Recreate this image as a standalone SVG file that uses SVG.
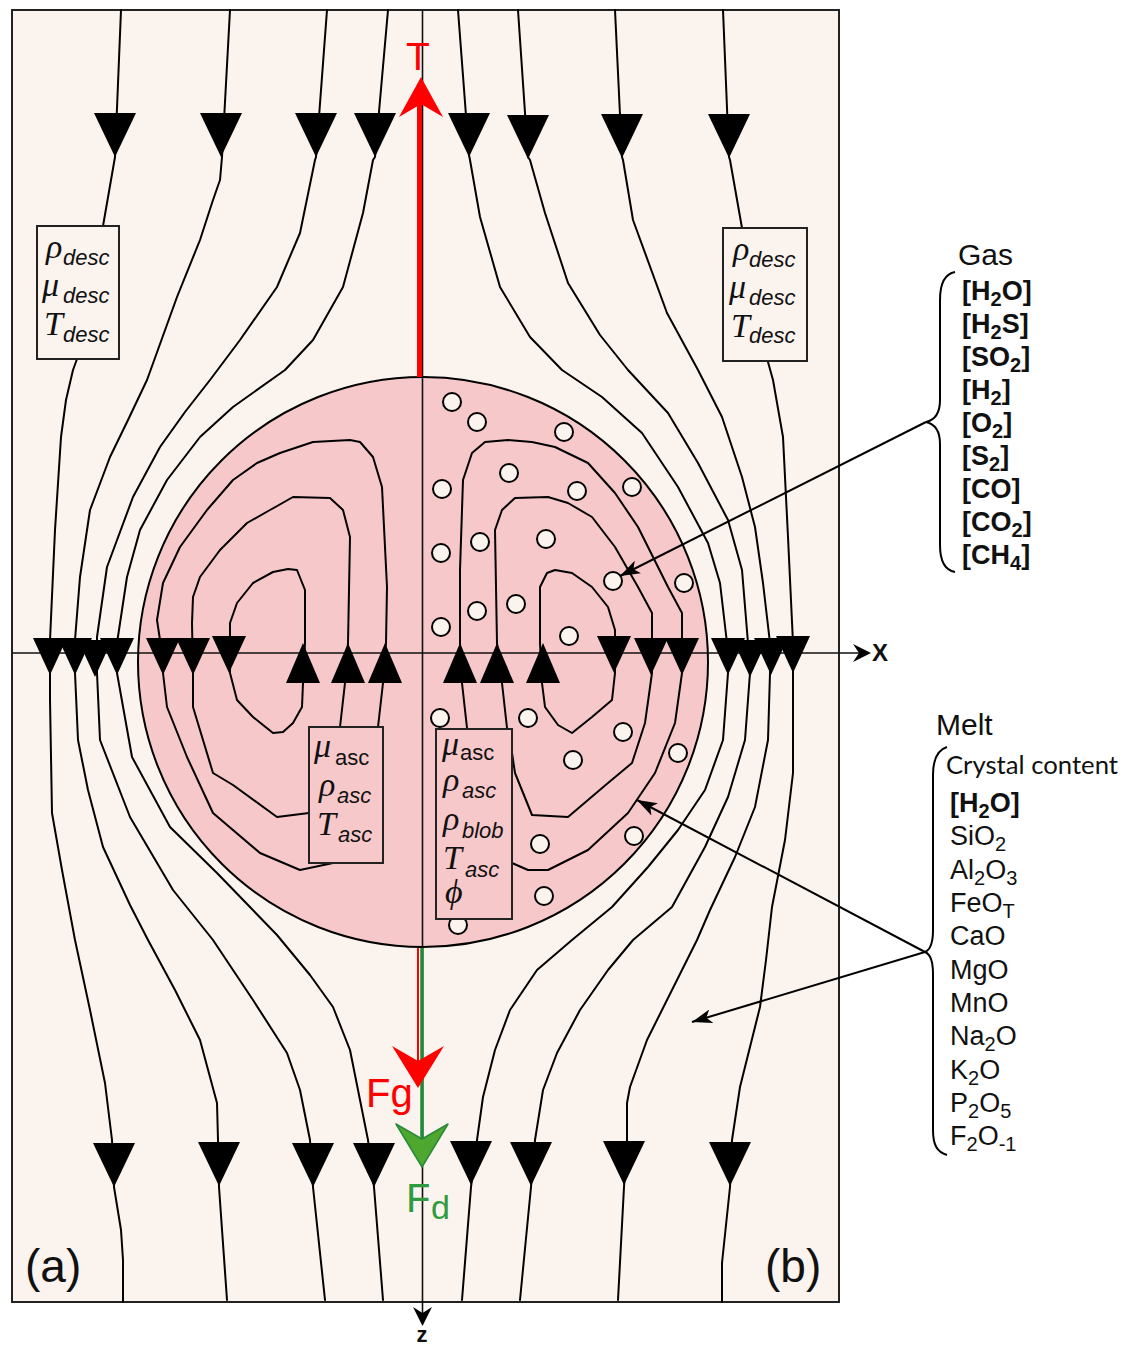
<svg xmlns="http://www.w3.org/2000/svg" width="1127" height="1346" viewBox="0 0 1127 1346">
<style>
.sl{fill:none;stroke:#000;stroke-width:2;stroke-linejoin:round;stroke-linecap:round}
.ax{fill:none;stroke:#111;stroke-width:1.6}
.bub{fill:#fbf3ee;stroke:#000;stroke-width:2}
.bx{stroke:#222;stroke-width:2}
.gk{font-family:"Liberation Serif","DejaVu Serif",serif;font-style:italic;font-size:34px;fill:#111}
.sb{font-family:"Liberation Sans",Arial,sans-serif;font-style:italic;font-size:22px;fill:#111}
.su{font-family:"Liberation Sans",Arial,sans-serif;font-size:22px;fill:#111}
.gas{font-family:"Liberation Sans",Arial,sans-serif;font-weight:bold;font-size:27px;fill:#111}
.melt{font-family:"Liberation Sans",Arial,sans-serif;font-size:27px;fill:#111}
.ttl{font-family:"Liberation Sans",Arial,sans-serif;font-size:30px;fill:#111}
.lbl{font-family:"Liberation Sans",Arial,sans-serif;font-size:46px;fill:#111}
.ptr{fill:none;stroke:#000;stroke-width:2}
</style>
<defs>
<path id="td" d="M-21,-44 L21,-44 L0,0 Z" fill="#000"/>
<path id="tds" d="M-17,-37 L17,-37 L0,0 Z" fill="#000"/>
<path id="tus" d="M-17,40 L17,40 L0,0 Z" fill="#000"/>
<marker id="ah" markerUnits="userSpaceOnUse" markerWidth="22" markerHeight="14" refX="20" refY="7" orient="auto">
<path d="M0,0 L20,7 L0,14 L5,7 Z" fill="#000"/>
</marker>
</defs>
<rect x="0" y="0" width="1127" height="1346" fill="#fff"/>
<rect id="frame" x="12" y="10" width="827" height="1292" fill="#fbf3ee" stroke="#222" stroke-width="2"/>
<g id="blob">
<circle cx="423" cy="662" r="285" fill="#f7c8ca" stroke="#000" stroke-width="2"/>
</g>
<g id="axes">
<line class="ax" x1="422.5" y1="10" x2="422.5" y2="1318"/>
<path d="M422.5,1326 L413,1307 L422.5,1313 L432,1307 Z" fill="#000"/>
<line class="ax" x1="12" y1="653" x2="862" y2="653"/>
<path d="M871,653 L853,644 L859,653 L853,662 Z" fill="#000"/>
<text x="872" y="661" font-family="Liberation Sans,Arial,sans-serif" font-weight="bold" font-size="24" fill="#111">X</text>
<text x="422" y="1342" text-anchor="middle" font-family="Liberation Sans,Arial,sans-serif" font-weight="bold" font-size="22" fill="#111">z</text>
</g>
<g id="connectors">
<path class="sl" d="M121,10 L115,157 L103,226 M77,359 L73,370 L66,400 L61,437 L55,530 L50,640 L50,700 L52,813 L62,870 L75,940 L90,1010 L105,1083 L112,1140 L114,1187 L121,1230 L123,1260 L123,1302"/>
<path class="sl" d="M230,10 L222,157 L220,180 L213,200 L200,240 L177,297 L147,380 L128,420 L110,457 L90,510 L80,577 L75,640 L75,673 L78,740 L88,790 L103,847 L130,905 L148,940 L175,990 L200,1040 L217,1103 L218,1140 L219,1187 L227,1300"/>
<path class="sl" d="M327,10 L316,157 L315,160 L300,233 L277,287 L240,340 L210,380 L185,412 L160,447 L133,497 L107,567 L97,637 L97,673 L100,740 L130,817 L173,890 L213,940 L253,1000 L287,1053 L300,1090 L310,1140 L313,1187 L325,1300"/>
<path class="sl" d="M388,10 L375,157 L373,160 L363,213 L343,287 L313,340 L285,370 L233,407 L200,437 L167,480 L140,530 L127,577 L117,643 L117,673 L132,757 L170,827 L217,873 L277,935 L310,975 L333,1007 L350,1050 L368,1140 L374,1187 L383,1300"/>
<path class="sl" d="M458,10 L469,155 L470,160 L480,217 L500,287 L530,337 L562,370 L602,397 L642,433 L678,487 L708,543 L720,583 L727,643 L728,673 L723,740 L705,790 L678,830 L648,867 L612,907 L572,940 L537,970 L510,1010 L495,1050 L483,1097 L477,1140 L471,1187 L462,1300"/>
<path class="sl" d="M518,10 L528,157 L530,160 L545,213 L568,283 L600,335 L628,370 L668,413 L698,463 L728,520 L742,570 L748,643 L750,673 L745,740 L728,797 L705,847 L672,907 L633,940 L608,970 L580,1010 L557,1053 L543,1090 L535,1140 L531,1187 L520,1300"/>
<path class="sl" d="M615,10 L622,157 L623,160 L633,220 L667,313 L698,370 L722,417 L742,477 L755,527 L763,583 L770,643 L770,673 L768,740 L755,807 L735,857 L710,910 L697,940 L682,970 L647,1040 L630,1087 L627,1103 L627,1140 L624,1187 L618,1300"/>
<path class="sl" d="M723,10 L729,157 L730,160 L742,228 M768,362 L773,380 L783,437 L788,537 L793,643 L793,673 L793,773 L785,840 L772,907 L766,960 L760,1007 L740,1087 L732,1140 L730,1187 L722,1263 L722,1302"/>
<path class="sl" d="M378,727 L383,683 L386,643 L387,587 L382,487 L373,457 L360,442 L350,440 L313,442 L280,453 L257,463 L233,480 L207,510 L180,547 L163,583 L157,620 L160,640 L163,673 L167,707 L187,757 L213,813 L260,853 L300,870 L333,863"/>
<path class="sl" d="M340,727 L345,683 L348,643 L350,537 L343,510 L330,498 L293,497 L270,510 L247,523 L220,550 L200,577 L193,597 L192,623 L193,673 L193,707 L213,773 L233,785 L277,817 L309,813"/>
<path class="sl" d="M303,683 L305,643 L305,590 L297,570 L288,569 L273,572 L253,583 L237,603 L230,623 L230,673 L237,700 L253,717 L273,733 L283,732 L293,723 L302,707 L303,683"/>
<path class="sl" d="M467,728 L462,683 L460,643 L460,570 L463,480 L472,453 L485,442 L508,440 L532,442 L555,447 L588,463 L615,493 L638,527 L668,587 L682,613 L682,673 L675,723 L655,773 L628,813 L588,850 L548,870 L528,870 L512,863"/>
<path class="sl" d="M507,728 L502,683 L497,643 L495,530 L502,510 L515,498 L548,497 L568,503 L592,517 L615,547 L638,587 L652,613 L652,673 L645,723 L632,763 L608,783 L568,817 L532,815 L515,773 L512,753"/>
<path class="sl" d="M542,683 L540,643 L540,587 L547,573 L555,570 L572,573 L592,587 L608,607 L615,630 L615,673 L612,700 L592,717 L572,733 L558,725 L545,707 L542,683"/>
<line class="ptr" x1="926" y1="422" x2="620" y2="576" marker-end="url(#ah)"/>
<line class="ptr" x1="925" y1="952" x2="637" y2="800" marker-end="url(#ah)"/>
<line class="ptr" x1="925" y1="952" x2="692" y2="1022" marker-end="url(#ah)"/>
</g>
<g id="arrowheads">
<use href="#td" x="115" y="157"/><use href="#td" x="221" y="157"/><use href="#td" x="316" y="157"/><use href="#td" x="375" y="157"/>
<use href="#td" x="469" y="157"/><use href="#td" x="528" y="159"/><use href="#td" x="622" y="158"/><use href="#td" x="729" y="158"/>
<use href="#td" x="114" y="1187"/><use href="#td" x="219" y="1186"/><use href="#td" x="313" y="1187"/><use href="#td" x="374" y="1187"/>
<use href="#td" x="471" y="1185"/><use href="#td" x="531" y="1186"/><use href="#td" x="624" y="1185"/><use href="#td" x="730" y="1186"/>
<use href="#tds" x="50" y="675"/><use href="#tds" x="75" y="675"/><use href="#tds" x="95" y="677"/><use href="#tds" x="117" y="675"/>
<use href="#tds" x="163" y="675"/><use href="#tds" x="193" y="675"/><use href="#tds" x="229" y="673"/>
<use href="#tds" x="614" y="673"/><use href="#tds" x="651" y="675"/><use href="#tds" x="682" y="675"/>
<use href="#tds" x="728" y="675"/><use href="#tds" x="750" y="677"/><use href="#tds" x="771" y="675"/><use href="#tds" x="793" y="673"/>
<use href="#tus" x="303" y="643"/><use href="#tus" x="348" y="643"/><use href="#tus" x="385" y="643"/>
<use href="#tus" x="460" y="643"/><use href="#tus" x="497" y="643"/><use href="#tus" x="543" y="643"/>
</g>
<g id="bubbles">
<circle class="bub" cx="452" cy="402" r="9"/><circle class="bub" cx="477" cy="422" r="9"/><circle class="bub" cx="564" cy="432" r="9"/>
<circle class="bub" cx="509" cy="473" r="9"/><circle class="bub" cx="442" cy="489" r="9"/><circle class="bub" cx="577" cy="491" r="9"/>
<circle class="bub" cx="632" cy="487" r="9"/><circle class="bub" cx="480" cy="542" r="9"/><circle class="bub" cx="546" cy="539" r="9"/>
<circle class="bub" cx="441" cy="553" r="9"/><circle class="bub" cx="613" cy="581" r="9"/><circle class="bub" cx="684" cy="583" r="9"/>
<circle class="bub" cx="516" cy="604" r="9"/><circle class="bub" cx="477" cy="611" r="9"/><circle class="bub" cx="441" cy="627" r="9"/>
<circle class="bub" cx="569" cy="636" r="9"/><circle class="bub" cx="440" cy="718" r="9"/><circle class="bub" cx="528" cy="718" r="9"/>
<circle class="bub" cx="623" cy="732" r="9"/><circle class="bub" cx="678" cy="753" r="9"/><circle class="bub" cx="573" cy="760" r="9"/>
<circle class="bub" cx="540" cy="844" r="9"/><circle class="bub" cx="634" cy="836" r="9"/><circle class="bub" cx="544" cy="896" r="9"/>
<circle class="bub" cx="458" cy="925" r="9"/>
</g>
<g id="forces">
<line x1="419.5" y1="100" x2="419.5" y2="377" stroke="#f00" stroke-width="5"/>
<path d="M421,77 L443,117 L421,104 L399,117 Z" fill="#f00"/>
<text x="418" y="70" text-anchor="middle" font-family="Liberation Sans,Arial,sans-serif" font-size="39" fill="#f00">T</text>
<line x1="418" y1="948" x2="418" y2="1065" stroke="#f00" stroke-width="2"/>
<line x1="422" y1="948" x2="422" y2="1145" stroke="#1f8a3a" stroke-width="3.5"/>
<path d="M418,1088 L392,1046 L418,1061 L444,1046 Z" fill="#f00"/>
<text x="366" y="1107" font-family="Liberation Sans,Arial,sans-serif" font-size="40" fill="#f00">Fg</text>
<path d="M422,1167 L396,1124 L422,1139 L448,1124 Z" fill="#4ea72e" stroke="#2a8a3a" stroke-width="1.5" stroke-linejoin="round"/>
<text x="406" y="1212" font-family="Liberation Sans,Arial,sans-serif" font-size="40" fill="#2e9b3e">F</text>
<text x="431" y="1219" font-family="Liberation Sans,Arial,sans-serif" font-size="34" fill="#2e9b3e">d</text>
</g>
<g id="box-desc-left">
<rect class="bx" x="37" y="226" width="82" height="133" fill="#fbf3ee"/>
<text class="gk" x="46" y="258">ρ</text><text class="sb" x="63" y="265">desc</text>
<text class="gk" x="42" y="296">μ</text><text class="sb" x="63" y="303">desc</text>
<text class="gk" x="44" y="335">T</text><text class="sb" x="63" y="342">desc</text>
</g>
<g id="box-desc-right">
<rect class="bx" x="723" y="228" width="84" height="133" fill="#fbf3ee"/>
<text class="gk" x="733" y="260">ρ</text><text class="sb" x="749" y="267">desc</text>
<text class="gk" x="729" y="298">μ</text><text class="sb" x="749" y="305">desc</text>
<text class="gk" x="731" y="337">T</text><text class="sb" x="749" y="343">desc</text>
</g>
<g id="box-asc-left">
<rect class="bx" x="309" y="727" width="74" height="136" fill="#f7c8ca"/>
<text class="gk" x="314" y="757">μ</text><text class="su" x="335" y="765">asc</text>
<text class="gk" x="319" y="796">ρ</text><text class="sb" x="337" y="803">asc</text>
<text class="gk" x="317" y="835">T</text><text class="sb" x="338" y="842">asc</text>
</g>
<g id="box-asc-right">
<rect class="bx" x="436" y="729" width="76" height="190" fill="#f7c8ca"/>
<text class="gk" x="442" y="755">μ</text><text class="su" x="460" y="760">asc</text>
<text class="gk" x="443" y="791">ρ</text><text class="sb" x="462" y="798">asc</text>
<text class="gk" x="443" y="830">ρ</text><text class="sb" x="462" y="838">blob</text>
<text class="gk" x="443" y="869">T</text><text class="sb" x="465" y="877">asc</text>
<text class="gk" x="445" y="903">ϕ</text>
</g>
<g id="gas">
<path class="ptr" d="M955,272 C944,274 940,285 940,300 L940,400 C940,414 935,420 926,422 C935,424 940,430 940,444 L940,545 C940,560 944,570 955,572"/>
<text class="ttl" x="958" y="265">Gas</text>
<text class="gas" x="962" y="300">[H<tspan font-size="20" dy="6">2</tspan><tspan dy="-6">O]</tspan></text>
<text class="gas" x="962" y="333">[H<tspan font-size="20" dy="6">2</tspan><tspan dy="-6">S]</tspan></text>
<text class="gas" x="962" y="366">[SO<tspan font-size="20" dy="6">2</tspan><tspan dy="-6">]</tspan></text>
<text class="gas" x="962" y="399">[H<tspan font-size="20" dy="6">2</tspan><tspan dy="-6">]</tspan></text>
<text class="gas" x="962" y="432">[O<tspan font-size="20" dy="6">2</tspan><tspan dy="-6">]</tspan></text>
<text class="gas" x="962" y="465">[S<tspan font-size="20" dy="6">2</tspan><tspan dy="-6">]</tspan></text>
<text class="gas" x="962" y="498">[CO]</text>
<text class="gas" x="962" y="531">[CO<tspan font-size="20" dy="6">2</tspan><tspan dy="-6">]</tspan></text>
<text class="gas" x="962" y="564">[CH<tspan font-size="20" dy="6">4</tspan><tspan dy="-6">]</tspan></text>
</g>
<g id="melt">
<path class="ptr" d="M947,747 C937,750 933,760 933,775 L933,930 C933,944 930,950 925,952 C930,954 933,960 933,974 L933,1130 C933,1145 937,1152 947,1155"/>
<text class="ttl" x="936" y="735">Melt</text>
<text x="946" y="774" font-family="Lato,'Open Sans',sans-serif" font-size="25" fill="#111" textLength="172" lengthAdjust="spacingAndGlyphs">Crystal content</text>
<text class="melt" x="950" y="812" font-weight="bold">[H<tspan font-size="20" dy="6">2</tspan><tspan dy="-6">O]</tspan></text>
<text class="melt" x="950" y="845">SiO<tspan font-size="20" dy="6">2</tspan></text>
<text class="melt" x="950" y="879">Al<tspan font-size="20" dy="6">2</tspan><tspan dy="-6">O</tspan><tspan font-size="20" dy="6">3</tspan></text>
<text class="melt" x="950" y="912">FeO<tspan font-size="20" dy="6">T</tspan></text>
<text class="melt" x="950" y="945">CaO</text>
<text class="melt" x="950" y="979">MgO</text>
<text class="melt" x="950" y="1012">MnO</text>
<text class="melt" x="950" y="1045">Na<tspan font-size="20" dy="6">2</tspan><tspan dy="-6">O</tspan></text>
<text class="melt" x="950" y="1079">K<tspan font-size="20" dy="6">2</tspan><tspan dy="-6">O</tspan></text>
<text class="melt" x="950" y="1112">P<tspan font-size="20" dy="6">2</tspan><tspan dy="-6">O</tspan><tspan font-size="20" dy="6">5</tspan></text>
<text class="melt" x="950" y="1145">F<tspan font-size="20" dy="6">2</tspan><tspan dy="-6">O</tspan><tspan font-size="20" dy="6">-1</tspan></text>
</g>
<g id="panel-labels">
<text class="lbl" x="25" y="1282">(a)</text>
<text class="lbl" x="765" y="1282">(b)</text>
</g>
</svg>
